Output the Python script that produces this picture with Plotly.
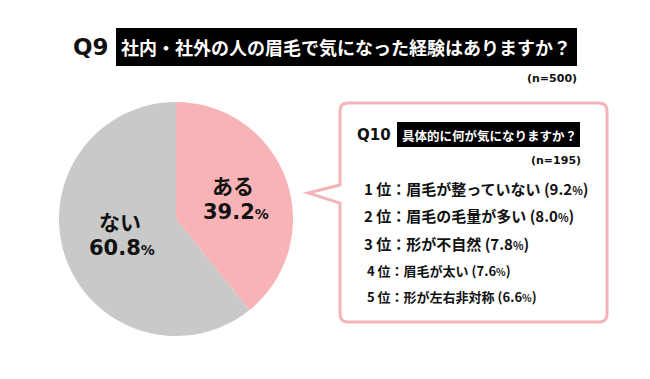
import plotly.graph_objects as go

# ---- data ----
pie_labels = ["ある", "ない"]
pie_values = [39.2, 60.8]
pie_colors = ["#F8B3B6", "#C9C9C9"]

q9_title = "社内・社外の人の眉毛で気になった経験はありますか？"
q9_n = "(n=500)"
q10_title = "具体的に何が気になりますか？"
q10_n = "(n=195)"
ranks = ["1", "2", "3", "4", "5"]
items = ["眉毛が整っていない", "眉毛の毛量が多い", "形が不自然", "眉毛が太い", "形が左右非対称"]
item_values = [9.2, 8.0, 7.8, 7.6, 6.6]

W, H = 650, 379
FONT = "Noto Sans CJK JP"
FONT_WIDE = "DejaVu Sans, Noto Sans CJK JP"
PINK_LINE = "#F3B5B8"

fig = go.Figure()

# pie: center (176,219), radius 117 px
cx, cy, r = 176, 219, 117
fig.add_trace(go.Pie(
    labels=pie_labels, values=pie_values, sort=False, direction="clockwise",
    rotation=0, marker=dict(colors=pie_colors, line=dict(width=0)),
    textinfo="none", hoverinfo="label+percent", showlegend=False,
    domain=dict(x=[(cx - r) / W, (cx + r) / W], y=[1 - (cy + r) / H, 1 - (cy - r) / H]),
))

shapes = []
annotations = []

def txt(x, y, text, size, color="#111111", xanchor="center", family=FONT):
    annotations.append(dict(
        x=x, y=y, xref="x", yref="y", text="<b>%s</b>" % text,
        showarrow=False, xanchor=xanchor, yanchor="middle",
        font=dict(family=family, size=size, color=color)))

# Q9 header
txt(91, 47, "Q9", 23, family=FONT_WIDE)
shapes.append(dict(type="rect", xref="x", yref="y", x0=116, x1=577, y0=28, y1=66,
                   fillcolor="#000000", line=dict(width=0), layer="below"))
txt(346, 47, q9_title, 18, color="#FFFFFF")
txt(579, 78, q9_n, 11, xanchor="right", family=FONT_WIDE)

# pie labels
pct = lambda v: "%.1f<span style='font-size:14px'>%%</span>" % v
txt(233, 185, pie_labels[0], 21)
txt(236, 212, pct(pie_values[0]), 21, family=FONT_WIDE)
txt(120, 221, pie_labels[1], 21)
txt(122, 248, pct(pie_values[1]), 21, family=FONT_WIDE)

# speech box with notch
L, T, R, B, rad = 340, 103, 607, 322, 8
path = (f"M {L+rad},{T} L {R-rad},{T} Q {R},{T} {R},{T+rad} "
        f"L {R},{B-rad} Q {R},{B} {R-rad},{B} L {L+rad},{B} Q {L},{B} {L},{B-rad} "
        f"L {L},203 L 308,193 L {L},185 L {L},{T+rad} Q {L},{T} {L+rad},{T} Z")
shapes.append(dict(type="path", xref="x", yref="y", path=path,
                   fillcolor="#FFFFFF", line=dict(color=PINK_LINE, width=3), layer="below"))

# Q10 header
txt(374, 135, "Q10", 15, family=FONT_WIDE)
shapes.append(dict(type="rect", xref="x", yref="y", x0=397, x1=580, y0=122, y1=147,
                   fillcolor="#000000", line=dict(width=0), layer="above"))
txt(489, 135, q10_title, 12.5, color="#FFFFFF")
txt(583, 160, q10_n, 11, xanchor="right", family=FONT_WIDE)

# ranking list
row_y = [188, 215, 243, 270, 296]
for i in range(5):
    big = i < 3
    size = 15 if big else 13
    sm = 11 if big else 10
    x0 = 362 if big else 365
    t = (f"{ranks[i]} 位：{items[i]} ({item_values[i]:.1f}"
         f"<span style='font-size:{sm}px'>%</span>)")
    txt(x0, row_y[i], t, size, xanchor="left")

fig.update_layout(
    width=W, height=H, margin=dict(l=0, r=0, t=0, b=0),
    paper_bgcolor="#FFFFFF", plot_bgcolor="rgba(0,0,0,0)",
    xaxis=dict(range=[0, W], visible=False, fixedrange=True),
    yaxis=dict(range=[H, 0], visible=False, fixedrange=True),
    shapes=shapes, annotations=annotations,
)
fig.write_html("out.html", config={"displayModeBar": False},
               post_script="document.body.style.margin='0';document.body.style.overflow='hidden';")
